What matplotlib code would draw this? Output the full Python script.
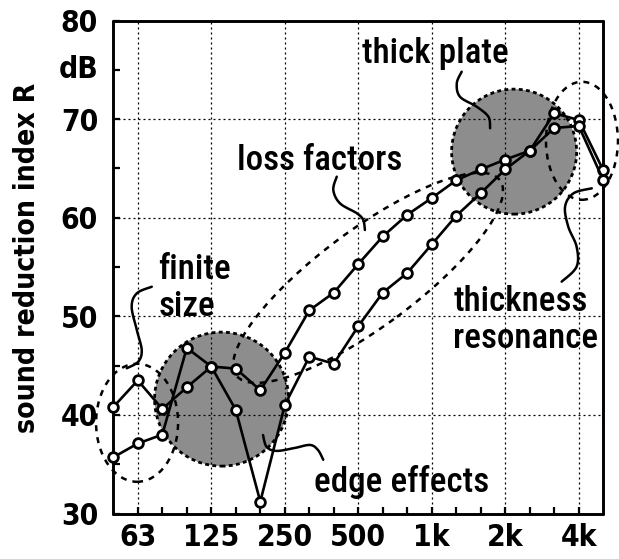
import numpy as np
import matplotlib
matplotlib.use("Agg")
import matplotlib.pyplot as plt
from matplotlib.patches import Ellipse
from matplotlib import transforms

# ---------------- data ----------------
bands = ['50', '63', '80', '100', '125', '160', '200', '250', '315', '400',
         '500', '630', '800', '1k', '1.25k', '1.6k', '2k', '2.5k', '3.15k',
         '4k', '5k']
R_upper = [40.8, 43.5, 40.6, 42.8, 44.9, 44.7, 42.5, 46.3, 50.6, 52.4, 55.3,
           58.1, 60.3, 62.0, 63.8, 64.9, 65.9, 66.8, 70.6, 69.9, 64.8]
R_lower = [35.7, 37.1, 38.0, 46.8, 44.9, 40.5, 31.2, 41.0, 45.9, 45.2, 49.0,
           52.4, 54.4, 57.3, 60.2, 62.5, 64.9, 66.8, 69.1, 69.3, 63.8]
xtick_bands = ['63', '125', '250', '500', '1k', '2k', '4k']
ytick_values = [30, 40, 50, 60, 70, 80]

TICKFONT = 'DejaVu Sans'
ANNFONT = 'Roboto Condensed'
plt.rcParams['font.family'] = [TICKFONT]
plt.rcParams['font.stretch'] = 'condensed'
plt.rcParams['font.weight'] = 'bold'
plt.rcParams['xtick.labelsize'] = 21.5
plt.rcParams['ytick.labelsize'] = 21.5

DPI = 100
W, H = 619, 559
fig = plt.figure(figsize=(W / DPI, H / DPI), dpi=DPI)
ax = fig.add_axes([113.3 / W, 1 - 513.5 / H, 490 / W, 493 / H])
ax.set_autoscale_on(False)

x = np.arange(len(bands))

# ---------------- grid / axes ----------------
ax.set_xlim(0, len(bands) - 1)
ax.set_ylim(30, 80)
ax.set_axisbelow(True)
major_x = [bands.index(b) for b in xtick_bands]
ax.set_xticks(major_x)
ax.set_xticklabels(xtick_bands)
ax.set_xticks(x[1:-1], minor=True)
ax.set_yticks(ytick_values)
ax.set_yticklabels([str(v) for v in ytick_values])
ax.set_yticks(np.arange(35, 80, 10), minor=True)
ax.grid(True, which='major', color='black', linewidth=0.9,
        linestyle=(0, (1.6, 2.4)))
ax.tick_params(axis='both', which='both', direction='in', length=5,
               width=1.6, color='black')
ax.tick_params(axis='x', which='both', top=False, pad=7)
ax.tick_params(axis='y', which='both', right=False, pad=11)
for sp in ax.spines.values():
    sp.set_linewidth(2.1)
    sp.set_capstyle('round')
    sp.set_joinstyle('round')
    sp.set_zorder(2.5)

ax.text(0, 75, 'dB',
        transform=transforms.blended_transform_factory(ax.transAxes, ax.transData)
        + transforms.ScaledTranslation(-11 / 72, 0, fig.dpi_scale_trans),
        ha='right', va='center', fontsize=21.5, fontweight='bold',
        family=TICKFONT, fontstretch='condensed')

ylab = fig.text(27 / W, 1 - 258 / H, 'sound reduction index R', rotation=90,
                ha='center', va='center', fontsize=20, fontweight='bold',
                family=TICKFONT, fontstretch='condensed')

# ---------------- annotation shapes ----------------
def pix_ellipse(cx, cy, w_px, h_px, angle=0, **kw):
    tr = fig.dpi_scale_trans + transforms.ScaledTranslation(cx, cy, ax.transData)
    e = Ellipse((0, 0), w_px / DPI, h_px / DPI, angle=angle, transform=tr,
                clip_on=False, **kw)
    ax.add_patch(e)
    return e

GRAY = '#8d8d8d'
pix_ellipse(4.42, 41.6, 134, 134, facecolor=GRAY, edgecolor='black',
            linewidth=2.0, linestyle=(0, (1.4, 1.2)), zorder=0.2)
pix_ellipse(16.36, 66.7, 125, 125, facecolor=GRAY, edgecolor='black',
            linewidth=2.0, linestyle=(0, (1.4, 1.2)), zorder=0.2)

dash = (0, (2.4, 2.4))
pix_ellipse(0.97, 39.2, 82, 118, facecolor='none', edgecolor='black',
            linewidth=1.8, linestyle=dash, zorder=1)
pix_ellipse(10.40, 53.9, 328, 97, angle=36.5, facecolor='none',
            edgecolor='black', linewidth=1.8, linestyle=dash, zorder=1)
pix_ellipse(19.13, 67.8, 72, 118, facecolor='none', edgecolor='black',
            linewidth=1.8, linestyle=dash, zorder=1)


def catmull(pts, n=16):
    pts = np.asarray(pts, float)
    P = np.vstack([pts[0], pts, pts[-1]])
    out = []
    for i in range(1, len(P) - 2):
        p0, p1, p2, p3 = P[i - 1], P[i], P[i + 1], P[i + 2]
        t = np.linspace(0, 1, n, endpoint=False)[:, None]
        out.append(0.5 * ((2 * p1) + (-p0 + p2) * t +
                          (2 * p0 - 5 * p1 + 4 * p2 - p3) * t ** 2 +
                          (-p0 + 3 * p1 - 3 * p2 + p3) * t ** 3))
    out.append(pts[-1][None, :])
    return np.vstack(out)


curves = [
    [(1.57, 53.0), (0.96, 52.33), (0.75, 50.97), (0.96, 48.61), (1.16, 46.58),
     (1.02, 45.4), (0.55, 44.73)],
    [(9.12, 64.16), (8.98, 62.81), (9.25, 61.46), (9.94, 60.45), (10.2, 59.77),
     (10.27, 58.75)],
    [(14.22, 74.81), (14.02, 73.63), (14.15, 72.27), (14.83, 71.26),
     (15.31, 70.24), (15.38, 69.07)],
    [(19.53, 62.98), (18.78, 62.47), (18.44, 61.12), (18.57, 59.09),
     (18.91, 57.06), (18.91, 55.03), (18.3, 53.51)],
    [(6.11, 37.96), (6.26, 36.75), (6.67, 36.35), (7.41, 36.65), (8.03, 36.95),
     (8.35, 36.45), (8.57, 35.45)],
]
for c in curves:
    s = catmull(c)
    ax.plot(s[:, 0], s[:, 1], color='black', linewidth=1.8,
            solid_capstyle='round', zorder=1.5, clip_on=False)

# ---------------- data lines ----------------
for series in (R_upper, R_lower):
    ax.plot(x, series, color='black', linewidth=1.9, marker='o',
            markersize=7, markerfacecolor='white', markeredgecolor='black',
            markeredgewidth=2.0, zorder=3, clip_on=False)

# ---------------- labels ----------------
akw = dict(fontsize=23, family=ANNFONT, fontweight='medium',
           fontstretch='condensed', ha='left', va='baseline', zorder=4)
anns = [
    (1.83, 53.78, 'finite', 74),
    (1.83, 50.03, 'size', 52),
    (5.05, 64.84, 'loss factors', 165),
    (10.15, 75.66, 'thick plate', 157),
    (13.88, 50.54, 'thickness', 133),
    (13.88, 46.78, 'resonance', 145),
    (8.19, 32.18, 'edge effects', 178),
]
texts = [ax.text(px, py, s, **akw) for px, py, s, _ in anns]

# fit font sizes to the widths seen in the reference
fig.canvas.draw()
r = fig.canvas.get_renderer()
sizes = []
for t, (_, _, _, target) in zip(texts, anns):
    w = t.get_window_extent(r).width
    sizes.append(t.get_fontsize() * target / w)
common = float(np.median(sizes))
for t in texts:
    t.set_fontsize(common)
hh = ylab.get_window_extent(r).height
ylab.set_fontsize(ylab.get_fontsize() * 350 / hh)

fig.savefig('out.png', dpi=DPI)
